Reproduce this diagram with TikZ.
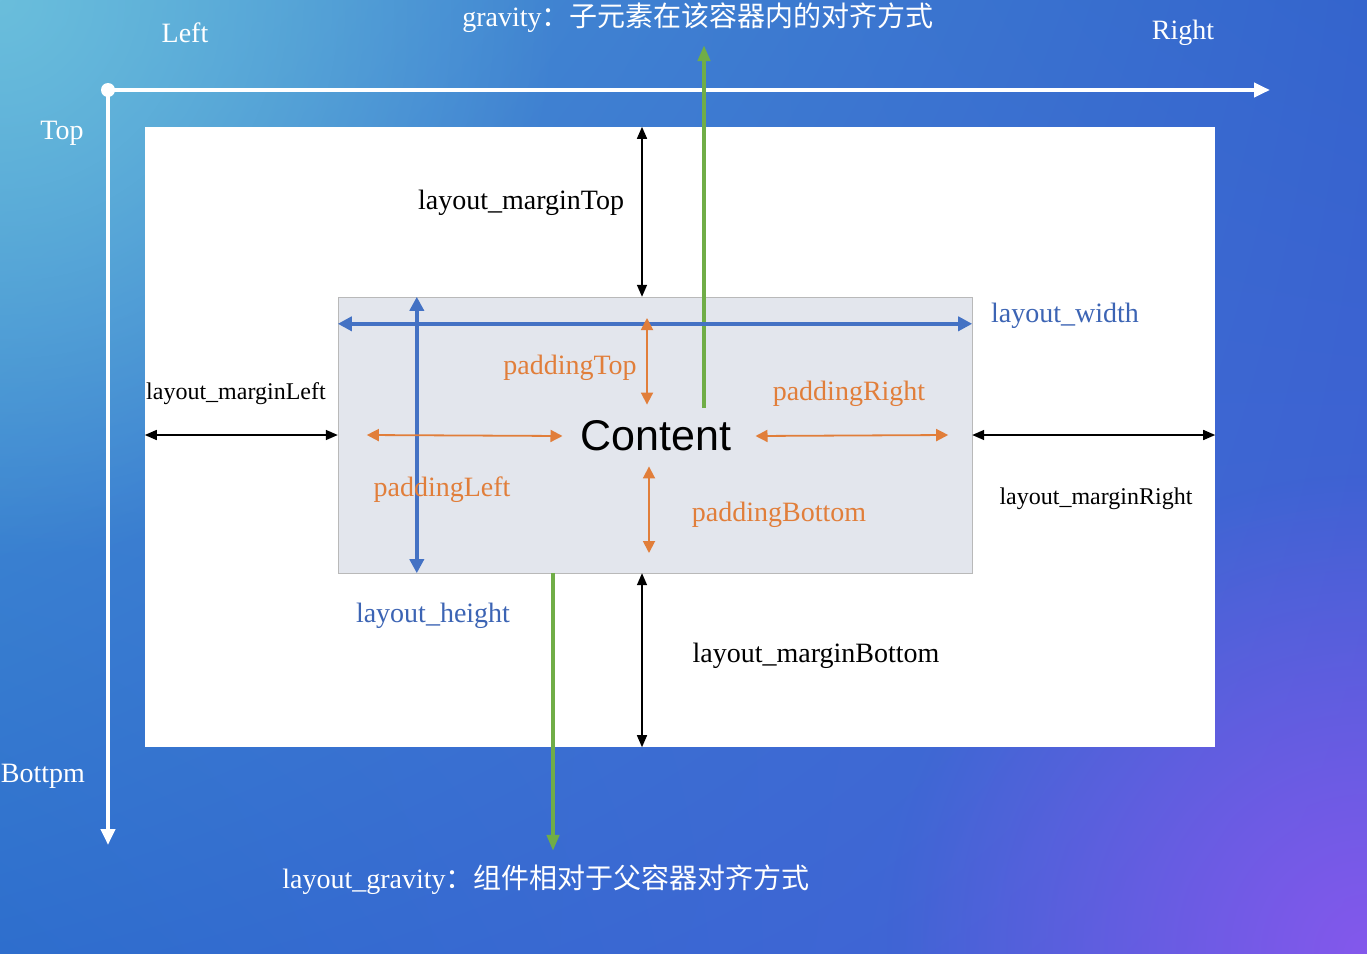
\documentclass[tikz,border=0pt]{standalone}
\usepackage{fontspec}
\setmainfont{Liberation Serif}
\setsansfont{Liberation Sans}
\newfontfamily\cjk{Noto Sans CJK SC}
\usetikzlibrary{arrows.meta, positioning, shadings, fadings}

\definecolor{bgtl}{RGB}{72,152,212}
\definecolor{bgtr}{RGB}{52,100,205}
\definecolor{bgbl}{RGB}{46,110,205}
\definecolor{bgbr}{RGB}{72,96,216}
\definecolor{bglight}{RGB}{106,190,220}
\definecolor{bgpurple}{RGB}{132,88,236}
\definecolor{boxgray}{RGB}{227,230,237}
\definecolor{wblue}{RGB}{68,114,196}
\definecolor{tblue}{RGB}{60,100,180}
\definecolor{porange}{RGB}{225,126,58}
\definecolor{ggreen}{RGB}{112,173,71}
\tikzfading[name=softfade, inner color=transparent!0, outer color=transparent!100]

\begin{document}
\begin{tikzpicture}[x=1pt, y=-1pt,
  lbl/.style={font=\fontsize{28}{30}\selectfont, inner sep=0pt},
  small/.style={font=\fontsize{24}{26}\selectfont, inner sep=0pt},
  axis/.style={white, line width=4pt, -{Triangle[length=16pt, width=14pt]}},
  blk/.style={black, line width=1.5pt, {Triangle[length=12pt, width=10pt]}-{Triangle[length=12pt, width=10pt]}},
  pad/.style={porange, line width=1.8pt, {Triangle[length=12pt, width=12pt]}-{Triangle[length=12pt, width=12pt]}},
  dim/.style={wblue, line width=4pt, {Triangle[length=14pt, width=14pt]}-{Triangle[length=14pt, width=14pt]}},
  grv/.style={ggreen, line width=4pt, -{Triangle[length=16pt, width=12pt]}},
]
  % Hintergrund
  \useasboundingbox (0,0) rectangle (1367,953);
  \shade[upper left=bgtl, upper right=bgtr, lower left=bgbl, lower right=bgbr]
    (0,0) rectangle (1367,953);
  \begin{scope}
    \clip (0,0) rectangle (1367,953);
    \fill[bglight, path fading=softfade] (0,0) circle (560);
    \fill[bgpurple, path fading=softfade] (1367,953) circle (480);
  \end{scope}

  % Achsen
  \coordinate (origin) at (108,90);
  \coordinate (xend)   at (1270,90);
  \coordinate (yend)   at (108,845);
  \draw[axis] (origin) -- (xend);
  \draw[axis] (origin) -- (yend);
  \fill[white] (origin) circle (7);
  \node[lbl, text=white] (left)   at (185,33)  {Left};
  \node[lbl, text=white] (right)  at (1183,33) {Right};
  \node[lbl, text=white] (top)    at (62,133)  {Top};
  \node[lbl, text=white] (bottom) at (43,776)  {Bottpm};

  % Eltern-Container und Inhalt
  \node[fill=white, minimum width=1070pt, minimum height=620pt, inner sep=0pt] (frame) at (680,437) {};
  \node[draw=gray!55, fill=boxgray, minimum width=634pt, minimum height=276pt, inner sep=0pt] (box) at (655,435) {};
  \node[font=\sffamily\fontsize{43}{45}\selectfont, inner sep=0pt] (content) at (656,436) {Content};

  % gravity
  \node[lbl, text=white] (grav) at (698,18) {gravity{\cjk：子元素在该容器内的对齐方式}};
  \coordinate (gin) at (704,408);
  \draw[grv, shorten >=12pt] (gin) -- (grav.south -| gin);
  \node[lbl, text=white] (lgrav) at (546,880) {layout\_gravity{\cjk：组件相对于父容器对齐方式}};
  \coordinate (gout) at (553,0);
  \draw[grv, shorten >=14pt] (box.south -| gout) -- (lgrav.north -| gout);

  % margins
  \coordinate (mx) at (642,0);
  \draw[blk] (frame.north -| mx) -- (box.north -| mx);
  \draw[blk] (box.south -| mx) -- (frame.south -| mx);
  \draw[blk] (box.west -| frame.west) -- (box.west);
  \draw[blk] (box.east) -- (box.east -| frame.east);
  \node[lbl]   (mtop)    at (521,203)  {layout\_marginTop};
  \node[lbl]   (mbottom) at (816,656)  {layout\_marginBottom};
  \node[small] (mleft)   at (236,394)  {layout\_marginLeft};
  \node[small] (mright)  at (1096,499) {layout\_marginRight};

  % width / height
  \draw[dim] ([yshift=-27pt]box.north west) -- ([yshift=-27pt]box.north east);
  \draw[dim] ([xshift=79pt]box.north west) -- ([xshift=79pt]box.south west);
  \node[lbl, text=tblue] (lwidth)  at (1065,316) {layout\_width};
  \node[lbl, text=tblue] (lheight) at (433,616)  {layout\_height};

  % padding
  \draw[pad] ([xshift=29pt]box.west) -- ([xshift=-18pt]content.west);
  \draw[pad] ([xshift=24pt]content.east) -- ([xshift=-24pt]box.east);
  \coordinate (ptop) at (647,318);
  \coordinate (pbot) at (649,553);
  \draw[pad] (ptop) -- ([xshift=-9pt, yshift=16pt]content.north);
  \draw[pad] ([xshift=-7pt, yshift=-15pt]content.south) -- (pbot);
  \node[lbl, text=porange] (ptoplbl)    at (570,368) {paddingTop};
  \node[lbl, text=porange] (pleftlbl)   at (442,490) {paddingLeft};
  \node[lbl, text=porange] (prightlbl)  at (849,394) {paddingRight};
  \node[lbl, text=porange] (pbottomlbl) at (779,515) {paddingBottom};
\end{tikzpicture}
\end{document}
